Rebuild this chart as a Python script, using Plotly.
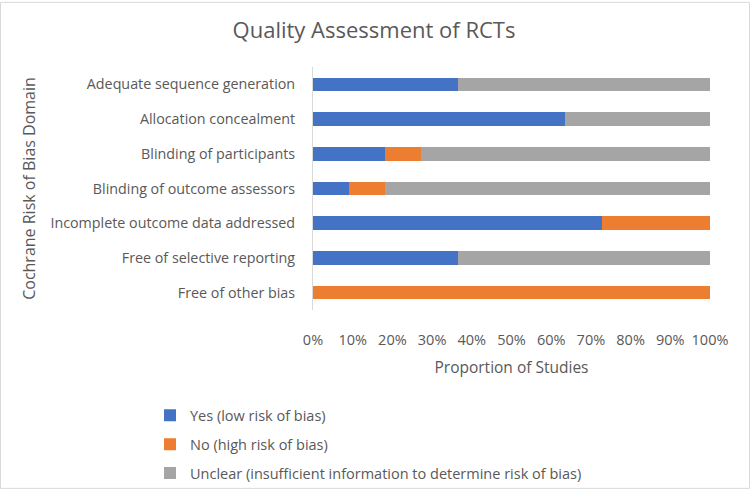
import plotly.graph_objects as go

# -- Risk-of-bias domains (top to bottom) and proportion of studies (%)
domains = [
    "Adequate sequence generation",
    "Allocation concealment",
    "Blinding of participants",
    "Blinding of outcome assessors",
    "Incomplete outcome data addressed",
    "Free of selective reporting",
    "Free of other bias",
]
yes_low = [36.4, 63.6, 18.2, 9.1, 72.7, 36.4, 0]
no_high = [0, 0, 9.1, 9.1, 27.3, 0, 100]
unclear = [63.6, 36.4, 72.7, 81.8, 0, 63.6, 0]

series_names = [
    "Yes (low risk of bias)",
    "No (high risk of bias)",
    "Unclear (insufficient information to determine risk of bias)",
]
series_colors = ["#4472C4", "#ED7D31", "#A5A5A5"]
x_ticks = list(range(0, 101, 10))

TEXT = "#595959"
FONT = "Open Sans"

W, H = 750, 501
ML, MR, MT, MB = 313, 40, 67, 184
pw, ph = W - ML - MR, H - MT - MB

fig = go.Figure()
for name, vals, col in zip(series_names, [yes_low, no_high, unclear], series_colors):
    fig.add_trace(
        go.Bar(
            y=domains,
            x=vals,
            name=name,
            orientation="h",
            marker=dict(color=col, line=dict(width=0)),
            legendgroup=name,
        )
    )

fig.update_layout(
    width=W,
    height=H,
    margin=dict(l=ML, r=MR, t=MT, b=MB),
    barmode="stack",
    bargap=0.61,
    plot_bgcolor="white",
    paper_bgcolor="white",
    font=dict(family=FONT, size=14, color=TEXT),
    title=dict(
        text="Quality Assessment of RCTs",
        x=374 / W,
        xanchor="center",
        xref="container",
        y=1 - 30 / H,
        yanchor="middle",
        yref="container",
        font=dict(size=22, color=TEXT),
    ),
    xaxis=dict(
        range=[0, 100],
        tickvals=x_ticks,
        ticktext=[f"{v}%" for v in x_ticks],
        showgrid=False,
        zeroline=False,
        showline=False,
        ticks="outside",
        ticklen=17,
        tickcolor="rgba(0,0,0,0)",
        tickfont=dict(size=14.5, color=TEXT),
        title=dict(text="Proportion of Studies", font=dict(size=15.5, color=TEXT), standoff=13),
    ),
    yaxis=dict(
        autorange="reversed",
        showgrid=False,
        zeroline=False,
        showline=True,
        linecolor="#D9D9D9",
        linewidth=1,
        ticks="outside",
        ticklen=14,
        tickcolor="rgba(0,0,0,0)",
        tickfont=dict(size=14.3, color=TEXT),
        title=dict(text="Cochrane Risk of Bias Domain", font=dict(size=16, color=TEXT), standoff=10),
    ),
    legend=dict(
        x=(150 - ML) / pw,
        xanchor="left",
        y=(MT + ph - 409) / ph,
        yanchor="top",
        orientation="v",
        traceorder="grouped",
        tracegroupgap=7,
        bgcolor="rgba(0,0,0,0)",
        font=dict(size=14.5, color=TEXT),
        itemwidth=30,
    ),
    shapes=[
        # light chart-area border round the whole picture
        dict(
            type="rect",
            xref="paper",
            yref="paper",
            x0=(-ML + 0.5) / pw,
            x1=(W - ML - 0.5) / pw,
            y0=-(MB - 0.5) / ph,
            y1=(ph + MT - 0.5) / ph,
            line=dict(color="#D9D9D9", width=1),
            fillcolor="rgba(0,0,0,0)",
            layer="below",
        )
    ],
)

# page body has a default 8px margin and may scroll; pin the figure to the window origin
fig.write_html(
    "out.html",
    config={"displayModeBar": False},
    post_script=(
        "document.body.style.margin='0';"
        "document.body.style.overflow='hidden';"
        "document.documentElement.style.overflow='hidden';"
    ),
)
